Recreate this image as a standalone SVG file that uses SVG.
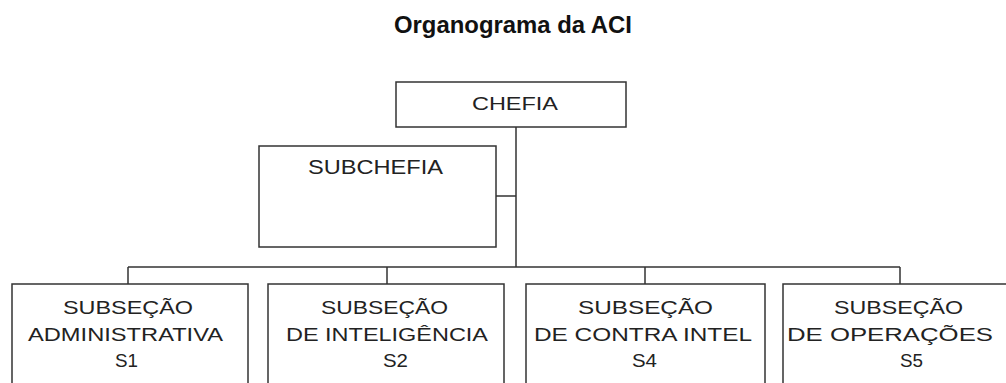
<svg xmlns="http://www.w3.org/2000/svg" width="1006" height="383" viewBox="0 0 1006 383">
<style>
.box{fill:#fff;stroke:#333;stroke-width:1.5}
.ln{fill:none;stroke:#333;stroke-width:1.5}
.t{font-family:"Liberation Sans",Arial,sans-serif;font-size:18px;fill:#222}
.title{font-family:"Liberation Sans",Arial,sans-serif;font-size:23px;font-weight:bold;fill:#111}
</style>
<rect width="1006" height="383" fill="#fff"/>
<text class="title" x="394" y="33" textLength="238" lengthAdjust="spacingAndGlyphs">Organograma da ACI</text>
<g id="connectors">
<path class="ln" d="M516 127 V267 M496 196 H516 M128 267 H900 M128 267 V284 M387 267 V284 M645 267 V284 M900 267 V284"/>
</g>
<g id="chefia">
<rect class="box" x="396" y="82" width="230" height="45"/>
<text class="t" x="472" y="110" textLength="86" lengthAdjust="spacingAndGlyphs">CHEFIA</text>
</g>
<g id="subchefia">
<rect class="box" x="259" y="146" width="237" height="101"/>
<text class="t" x="308" y="174" textLength="135" lengthAdjust="spacingAndGlyphs" style="font-size:21px">SUBCHEFIA</text>
</g>
<g id="s1">
<path class="ln" d="M12 383 V284 H248 V383"/>
<text class="t" x="63" y="314" textLength="130" lengthAdjust="spacingAndGlyphs">SUBSEÇÃO</text>
<text class="t" x="28" y="341" textLength="195" lengthAdjust="spacingAndGlyphs">ADMINISTRATIVA</text>
<text class="t" x="115" y="367" textLength="23" lengthAdjust="spacingAndGlyphs">S1</text>
</g>
<g id="s2">
<path class="ln" d="M268 383 V284 H504 V383"/>
<text class="t" x="321" y="314" textLength="127" lengthAdjust="spacingAndGlyphs">SUBSEÇÃO</text>
<text class="t" x="286" y="341" textLength="202" lengthAdjust="spacingAndGlyphs">DE INTELIGÊNCIA</text>
<text class="t" x="383" y="367" textLength="25" lengthAdjust="spacingAndGlyphs">S2</text>
</g>
<g id="s4">
<path class="ln" d="M526 383 V284 H765 V383"/>
<text class="t" x="578" y="314" textLength="135" lengthAdjust="spacingAndGlyphs">SUBSEÇÃO</text>
<text class="t" x="534" y="341" textLength="218" lengthAdjust="spacingAndGlyphs">DE CONTRA INTEL</text>
<text class="t" x="632" y="367" textLength="25" lengthAdjust="spacingAndGlyphs">S4</text>
</g>
<g id="s5">
<path class="ln" d="M783 383 V284 H1010"/>
<text class="t" x="834" y="314" textLength="129" lengthAdjust="spacingAndGlyphs">SUBSEÇÃO</text>
<text class="t" x="787" y="341" textLength="206" lengthAdjust="spacingAndGlyphs">DE OPERAÇÕES</text>
<text class="t" x="900" y="367" textLength="23" lengthAdjust="spacingAndGlyphs">S5</text>
</g>
</svg>
